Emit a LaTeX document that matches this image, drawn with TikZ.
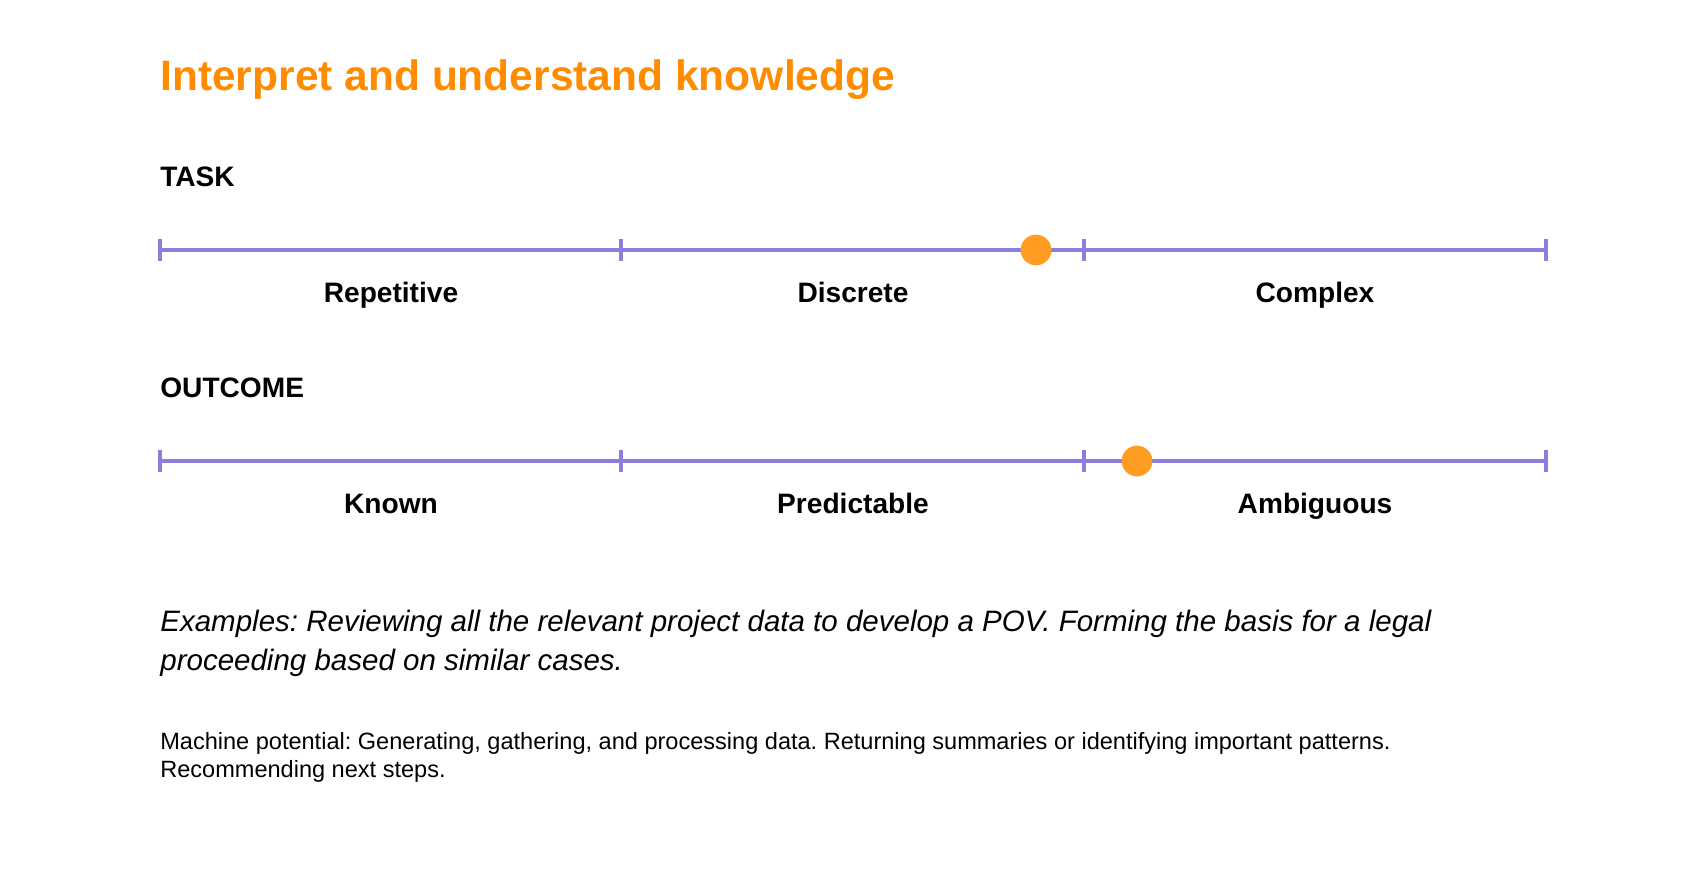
\documentclass[tikz,border=0pt]{standalone}
\usepackage{fontspec}
\setmainfont{Liberation Sans}
\usetikzlibrary{positioning}
\definecolor{scaleline}{RGB}{138,127,220}
\definecolor{dotorange}{RGB}{255,156,34}
\definecolor{titleorange}{RGB}{255,140,0}

\begin{document}
\frenchspacing
\begin{tikzpicture}[x=0.02cm, y=-0.02cm,
    axis/.style={line width=1.9pt, scaleline},
    tickmark/.style={line width=1.9pt, scaleline},
    rowtitle/.style={anchor=base west, inner sep=0pt, font=\fontsize{16}{18}\selectfont\bfseries},
    seglabel/.style={anchor=base, font=\fontsize{16}{18}\selectfont\bfseries},
    markerdot/.style={circle, fill=dotorange, inner sep=0pt, minimum size=17.5pt}]
  \useasboundingbox[fill=white] (0,0) rectangle (1706,872);

  % heading
  \node[anchor=base west, inner sep=0pt, text=titleorange,
        font=\fontsize{24.2}{28}\selectfont\bfseries]
    (title) at (160,90) {Interpret and understand knowledge};

  % task scale
  \node[rowtitle] (task) at (160,186) {TASK};
  \coordinate (t0) at (160,250);
  \coordinate (t1) at (621,250);
  \coordinate (t2) at (1084,250);
  \coordinate (t3) at (1546,250);
  \draw[axis] (t0) -- (t3);
  \foreach \p in {t0,t1,t2,t3}
    \draw[tickmark] ([yshift=6.5pt]\p) -- ([yshift=-6.5pt]\p);
  \node[seglabel] (repetitive) at (391,302) {Repetitive};
  \node[seglabel] (discrete) at (853,302) {Discrete};
  \node[seglabel] (complex) at (1315,302) {Complex};
  \node[markerdot] (taskdot) at (1036,250) {};

  % outcome scale
  \node[rowtitle] (outcome) at (160,397) {OUTCOME};
  \coordinate (o0) at (160,461);
  \coordinate (o1) at (621,461);
  \coordinate (o2) at (1084,461);
  \coordinate (o3) at (1546,461);
  \draw[axis] (o0) -- (o3);
  \foreach \p in {o0,o1,o2,o3}
    \draw[tickmark] ([yshift=6.5pt]\p) -- ([yshift=-6.5pt]\p);
  \node[seglabel] (known) at (391,513) {Known};
  \node[seglabel] (predictable) at (853,513) {Predictable};
  \node[seglabel] (ambiguous) at (1315,513) {Ambiguous};
  \node[markerdot] (outcomedot) at (1137,461) {};

  % notes (anchored on the last line)
  \node[anchor=base west, align=left, inner sep=0pt,
        font=\fontsize{16.8}{22.2}\selectfont\itshape] (examples) at (160,670)
    {Examples: Reviewing all the relevant project data to develop a POV. Forming the basis for a legal\\
     proceeding based on similar cases.};
  \node[anchor=base west, align=left, inner sep=0pt,
        font=\fontsize{13.4}{15.4}\selectfont] (machine) at (160,777)
    {Machine potential: Generating, gathering, and processing data. Returning summaries or identifying important patterns.\\
     Recommending next steps.};
\end{tikzpicture}
\end{document}
